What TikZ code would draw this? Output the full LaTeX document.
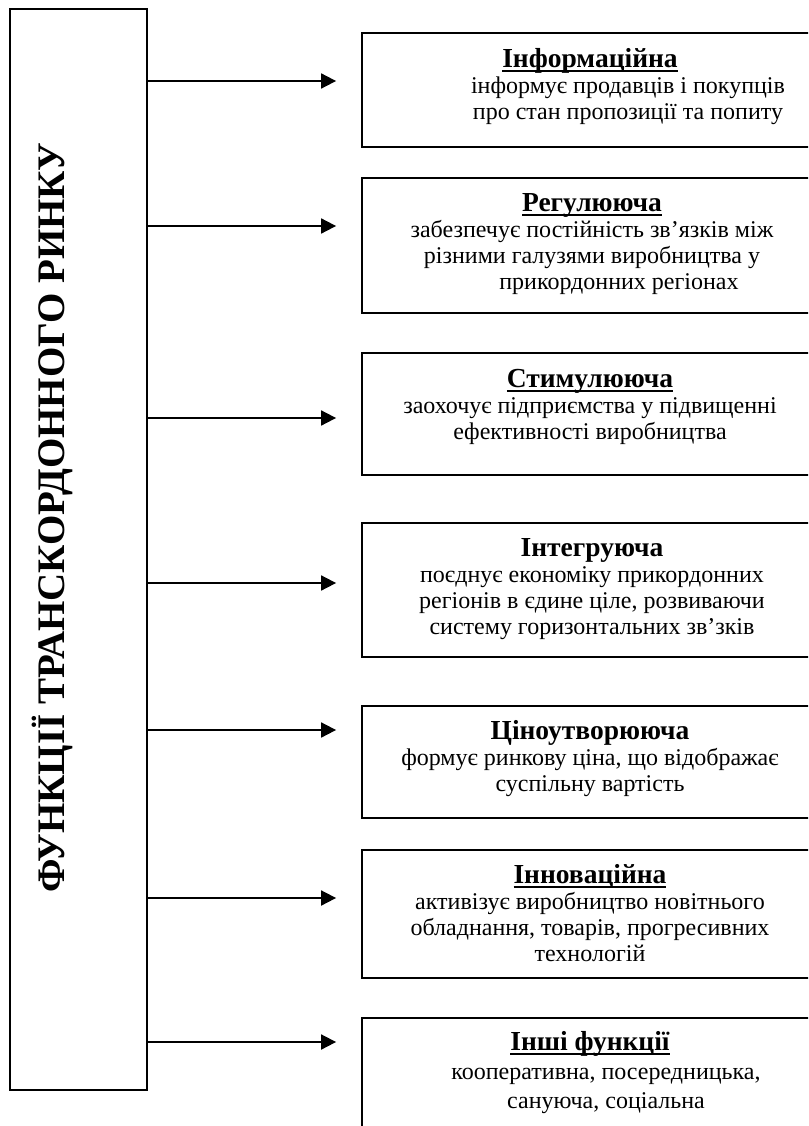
\documentclass[tikz,border=0pt]{standalone}
\usepackage{fontspec}
\setmainfont{Liberation Serif}
\usetikzlibrary{arrows.meta}
\newsavebox{\ulbox}
\newcommand{\hd}[1]{{\fontsize{27.5}{26}\selectfont\bfseries #1}}
\newcommand{\ulh}[1]{\sbox{\ulbox}{\hd{#1}}\rlap{\rule[-4.6pt]{\wd\ulbox}{2pt}}\usebox{\ulbox}}
\begin{document}
\begin{tikzpicture}[x=1pt,y=-1pt]
\tikzset{
  fbox/.style={draw, rectangle, minimum width=456pt, inner sep=0pt, line width=1.8pt},
  ftext/.style={anchor=north, align=center, inner sep=0pt, font=\fontsize{24}{26}\selectfont},
  arr/.style={-{Triangle[length=15pt,width=15pt]}, line width=1.8pt, shorten >=25pt},
  mainbox/.style={draw, rectangle, line width=1.8pt, minimum width=137pt, minimum height=1081pt, inner sep=0pt},
  titlefont/.style={font=\fontsize{39}{41}\selectfont\bfseries}
}
\clip (0,0) rectangle (808,1126);
\fill[white] (0,0) rectangle (808,1126);

% left box
\node[mainbox] (L) at (78.5,549.5) {};
\node[titlefont, rotate=90, inner sep=0pt] (title) at (52,518) {ФУНКЦІЇ ТРАНСКОРДОННОГО РИНКУ};

% right boxes
\node[fbox, minimum height=114pt] (b1) at (590,90) {};
\node[fbox, minimum height=135pt] (b2) at (590,245.5) {};
\node[fbox, minimum height=122pt] (b3) at (590,414) {};
\node[fbox, minimum height=134pt] (b4) at (590,590) {};
\node[fbox, minimum height=112pt] (b5) at (590,762) {};
\node[fbox, minimum height=128pt] (b6) at (590,914) {};
\node[fbox, minimum height=132pt] (b7) at (590,1084) {};

% texts
\node[ftext] (t1) at (590,48.3) {\ulh{Інформаційна}\\
  \hspace*{76pt}інформує продавців і покупців\\
  \hspace*{76pt}про стан пропозиції та попиту};
\node[ftext] (t2) at (592,193.3) {\ulh{Регулююча}\\
  забезпечує постійність зв’язків між\\
  різними галузями виробництва у\\
  \hspace*{54pt}прикордонних регіонах};
\node[ftext] (t3) at (590,369.3) {\ulh{Стимулююча}\\
  заохочує підприємства у підвищенні\\
  ефективності виробництва};
\node[ftext] (t4) at (592,538.3) {\hd{Інтегруюча}\\
  поєднує економіку прикордонних\\
  регіонів в єдине ціле, розвиваючи\\
  систему горизонтальних зв’зків};
\node[ftext] (t5) at (590,720.3) {\hd{Ціноутворююча}\\
  формує ринкову ціна, що відображає\\
  суспільну вартість};
\node[ftext] (t6) at (590,864.3) {\ulh{Інноваційна}\\
  активізує виробництво новітнього\\
  обладнання, товарів, прогресивних\\
  технологій};
\node[ftext, font=\fontsize{24}{29}\selectfont] (t7) at (590,1031.3) {\ulh{Інші функції}\\
  \hspace*{32pt}кооперативна, посередницька,\\
  \hspace*{32pt}сануюча, соціальна};

% arrows
\coordinate (a1) at (0,81);
\coordinate (a2) at (0,226);
\coordinate (a3) at (0,418);
\coordinate (a4) at (0,583);
\coordinate (a5) at (0,730);
\coordinate (a6) at (0,898);
\coordinate (a7) at (0,1042);
\draw[arr] (L.east |- a1) -- (b1.west |- a1);
\draw[arr] (L.east |- a2) -- (b2.west |- a2);
\draw[arr] (L.east |- a3) -- (b3.west |- a3);
\draw[arr] (L.east |- a4) -- (b4.west |- a4);
\draw[arr] (L.east |- a5) -- (b5.west |- a5);
\draw[arr] (L.east |- a6) -- (b6.west |- a6);
\draw[arr] (L.east |- a7) -- (b7.west |- a7);
\end{tikzpicture}
\end{document}
